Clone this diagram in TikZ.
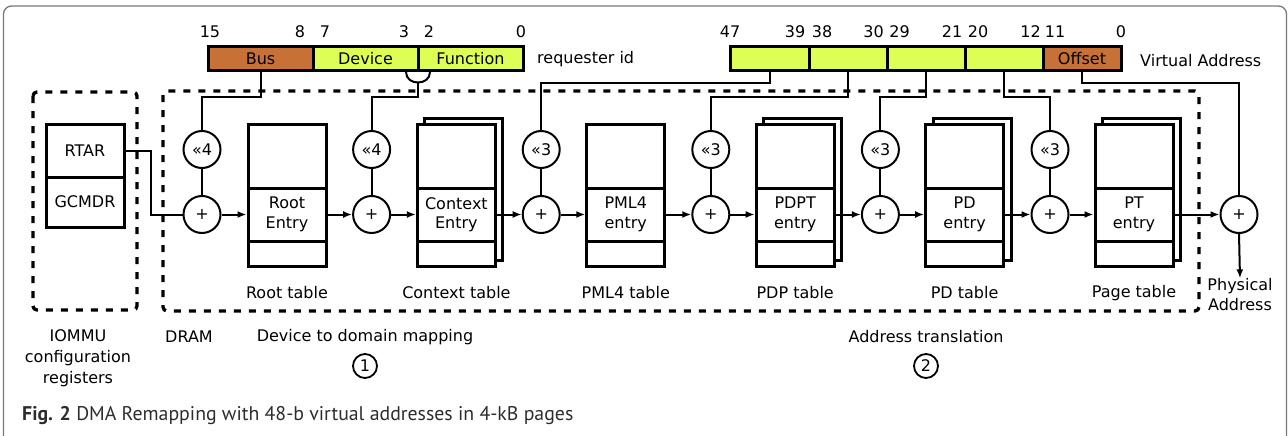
\documentclass[tikz,border=0pt]{standalone}
\usepackage{fontspec}
\setmainfont{DejaVu Sans}
\newfontfamily\capfont{PT Sans}
\usetikzlibrary{arrows.meta,calc}
\definecolor{lime}{RGB}{221,255,85}
\definecolor{rust}{RGB}{200,113,55}
\definecolor{framegray}{RGB}{120,120,120}
\definecolor{captext}{RGB}{45,45,45}
\begin{document}
\begin{tikzpicture}[x=1pt,y=-1pt,
  font=\fontsize{16pt}{19.5pt}\selectfont,
  conn/.style={line width=2pt},
  arr/.style={line width=2pt,-{Latex[length=9pt,width=7pt]}},
  field/.style={draw,line width=3pt,minimum height=24pt,inner sep=0pt},
  opcirc/.style={draw,circle,line width=2pt,minimum size=37pt,inner sep=0pt},
  tbox/.style={draw,line width=3pt,fill=white,minimum width=78pt,minimum height=142pt,inner sep=0pt},
  tline/.style={line width=3pt},
  entry/.style={align=center,inner sep=0pt},
  region/.style={line width=3.3pt,dash pattern=on 7pt off 8pt,rounded corners=4pt},
  lbl/.style={inner sep=0pt},
  numc/.style={draw,circle,line width=1.8pt,minimum size=24pt,inner sep=0pt}]
\useasboundingbox (0,0) rectangle (1288,436);
\begin{scope}
\clip (0,0) rectangle (1288,436);
\draw[framegray,line width=1.3pt,rounded corners=8pt] (3.5,6) rectangle (1286.5,470);
\end{scope}
% dashed regions
\draw[region] (33,92) rectangle (137,310);
\draw[region] (163,91) rectangle (1199,311);
% requester id
\node[field,fill=rust,minimum width=105pt] (bus) at (260.5,58.5) {Bus};
\node[field,fill=lime,minimum width=105pt] (dev) at (365.5,58.5) {Device};
\node[field,fill=lime,minimum width=105pt] (fun) at (470.5,58.5) {Function};
\node[lbl,anchor=west] (rid) at (537,59) {requester id};
\node[lbl] (n15) at (210,32) {15};
\node[lbl] (n8) at (300,32) {8};
\node[lbl] (n7) at (325,32) {7};
\node[lbl] (n3) at (404,32) {3};
\node[lbl] (n2) at (429,32) {2};
\node[lbl] (n0a) at (521,32) {0};
% virtual address
\node[field,fill=lime,minimum width=79pt] (a1) at (769.5,58.5) {};
\node[field,fill=lime,minimum width=78pt] (a2) at (848,58.5) {};
\node[field,fill=lime,minimum width=78pt] (a3) at (926,58.5) {};
\node[field,fill=lime,minimum width=78pt] (a4) at (1004,58.5) {};
\node[field,fill=rust,minimum width=78pt] (off) at (1082,58.5) {Offset};
\node[lbl,anchor=west] (vad) at (1140,61) {Virtual Address};
\node[lbl] (n47) at (730,32) {47};
\node[lbl] (n39) at (795,32) {39};
\node[lbl] (n38) at (822,32) {38};
\node[lbl] (n30) at (873.5,32) {30};
\node[lbl] (n29) at (899.5,32) {29};
\node[lbl] (n21) at (952,32) {21};
\node[lbl] (n20) at (978,32) {20};
\node[lbl] (n12) at (1030.5,32) {12};
\node[lbl] (n11) at (1055,32) {11};
\node[lbl] (n0b) at (1121,32) {0};
% registers
\node[draw,line width=3pt,minimum width=78pt,minimum height=53pt,inner sep=0pt] (rtar) at (85,150.5) {RTAR};
\node[draw,line width=3pt,minimum width=78pt,minimum height=50pt,inner sep=0pt] (gcmdr) at (85,202) {GCMDR};
% shift / add circles
\foreach \k/\px/\sh in {1/202/4,2/371.6/4,3/541.2/3,4/710.8/3,5/880.4/3,6/1050/3}{
  \node[opcirc] (s\k) at (\px,149.5) {«\sh};
  \node[opcirc] (p\k) at (\px,214.5) {+};
  \draw[conn] (s\k) -- (p\k);
}
\node[opcirc] (pf) at (1239,214.5) {+};
% tables
\foreach \k/\cx/\stk/\ent/\lab in {1/287/0/{Root\\Entry}/{Root table},
    2/456.4/1/{Context\\Entry}/{Context table},
    3/625.8/0/{PML4\\entry}/{PML4 table},
    4/795.2/1/{PDPT\\entry}/{PDP table},
    5/964.6/1/{PD\\entry}/{PD table},
    6/1134/1/{PT\\entry}/{Page table}}{
  \ifnum\stk=1 \draw[tline,fill=white] (\cx-39+7.5,118) rectangle (\cx+39+7.5,260); \fi
  \node[tbox] (t\k) at (\cx,195) {};
  \draw[tline] (\cx-39,188) -- (\cx+39,188);
  \draw[tline] (\cx-39,241) -- (\cx+39,241);
  \node[entry] (e\k) at (\cx,214.5) {\ent};
  \node[lbl] (l\k) at (\cx,293) {\lab};
}
% connectors from fields
\draw[conn] (rtar.east) -- ++(25,0) |- (p1.west);
\draw[conn] (bus.south) -- ++(0,25) -| (s1.north);
\coordinate (hop) at ($(dev.south east)!0.5!(fun.south west)$);
\draw[conn] ([xshift=-12pt]hop) .. controls +(0,14) and +(0,14) .. ([xshift=12pt]hop);
\draw[conn] ([yshift=-10.5pt]hop) -- ++(0,14.5) -| (s2.north);
\draw[conn] (a1.south) -- ++(0,11.3) -| (s3.north);
\draw[conn] (a2.south) -- ++(0,25) -| (s4.north);
\draw[conn] (a3.south) -- ++(0,25) -| (s5.north);
\draw[conn] (a4.south) -- ++(0,25) -| (s6.north);
\draw[conn] (off.south) -- ++(0,11.3) -| (pf.north);
% arrows
\foreach \k in {1,...,6}{
  \draw[arr] (p\k.east) -- (p\k.east -| t\k.west);
}
\draw[arr] (t1.east |- p2.west) -- (p2.west);
\draw[arr] (t2.east |- p3.west) -- (p3.west);
\draw[arr] (t3.east |- p4.west) -- (p4.west);
\draw[arr] (t4.east |- p5.west) -- (p5.west);
\draw[arr] (t5.east |- p6.west) -- (p6.west);
\draw[arr] (t6.east |- pf.west) -- (pf.west);
\node[lbl,align=center] (pa) at (1240,294.5) {Physical\\Address};
\draw[arr] (pf.south) -- (pa.north);
% bottom labels
\node[lbl,align=center,font=\fontsize{16pt}{21pt}\selectfont] (iommu) at (78,358) {IOMMU\\configuration\\registers};
\node[lbl] (dram) at (189,337) {DRAM};
\node[lbl] (d2d) at (365,337) {Device to domain mapping};
\node[numc] (c1) at (365,366) {1};
\node[lbl] (atr) at (926,337) {Address translation};
\node[numc] (c2) at (926,366) {2};
% caption
\node[anchor=base west,inner sep=0pt,font=\capfont\fontsize{19.8pt}{22pt}\selectfont,text=captext] (cap) at (22,420) {\textbf{Fig. 2} DMA Remapping with 48-b virtual addresses in 4-kB pages};
\end{tikzpicture}
\end{document}
